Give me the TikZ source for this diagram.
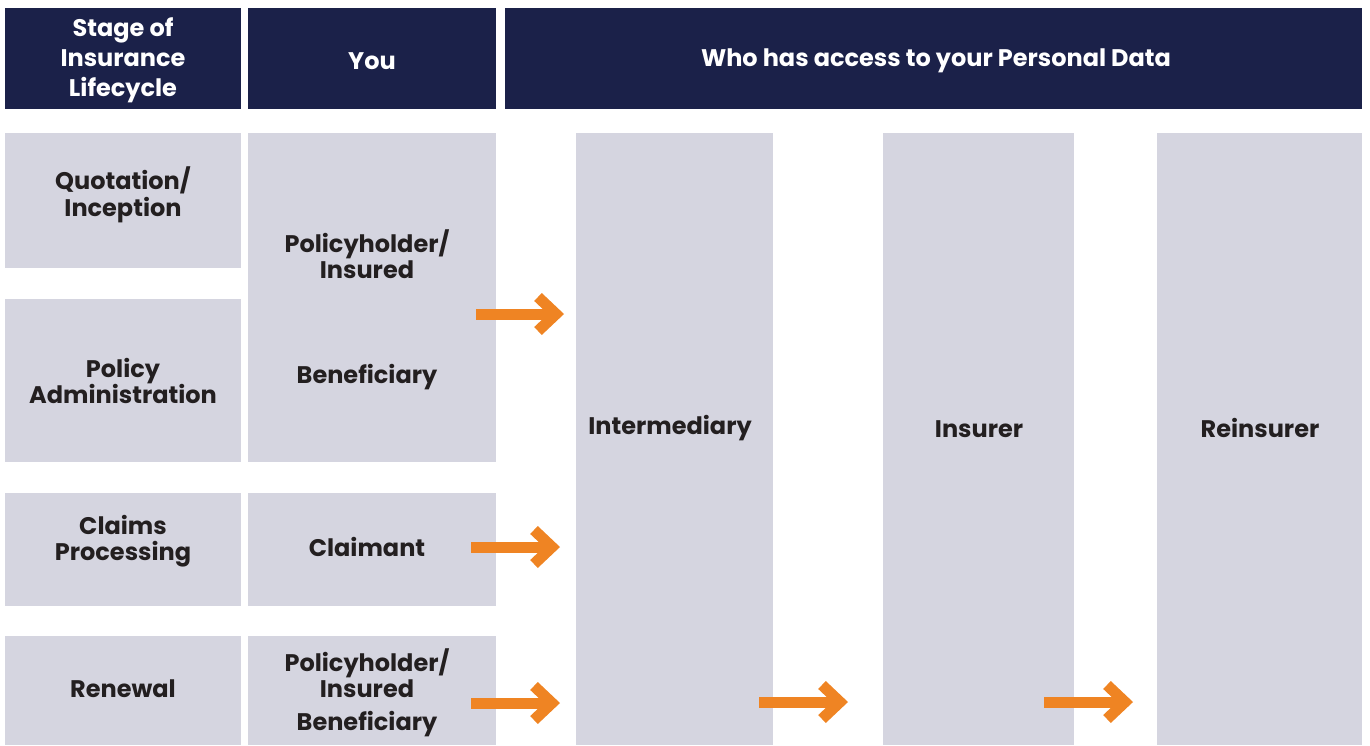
\documentclass[tikz,border=0pt]{standalone}
\usepackage{fontspec}
\setmainfont{Poppins}
\usetikzlibrary{arrows.meta}
\definecolor{navy}{RGB}{27,33,73}
\definecolor{cellgray}{RGB}{213,213,224}
\definecolor{arroworange}{RGB}{239,132,35}
\definecolor{darktext}{RGB}{35,31,32}
\begin{document}
\begin{tikzpicture}[x=1pt,y=-1pt,
  hdr/.style={fill=navy,draw=none,anchor=north west,inner sep=0pt},
  cell/.style={fill=cellgray,draw=none,anchor=north west,inner sep=0pt},
  htext/.style={text=white,font=\bfseries\fontsize{24}{30}\selectfont,align=center,inner sep=0pt},
  ctext/.style={text=darktext,font=\bfseries\fontsize{24}{26.5}\selectfont,align=center,inner sep=0pt},
  flow/.style={draw=arroworange,line width=11pt,line cap=butt,
    -{Straight Barb[length=18pt,width=34pt,line width=11pt,line join=miter,line cap=butt]}}
]
\useasboundingbox (0,0) rectangle (1370,745);
% header
\node[hdr,minimum width=236pt,minimum height=101pt] (h1) at (5,8) {};
\node[hdr,minimum width=248pt,minimum height=101pt] (h2) at (248,8) {};
\node[hdr,minimum width=857pt,minimum height=101pt] (h3) at (505,8) {};
\node[htext] (t-h1) at (123,60) {Stage of\\Insurance\\Lifecycle};
\node[htext] (t-h2) at (372,61) {You};
\node[htext] (t-h3) at (936,61) {Who has access to your Personal Data};
% column 1
\node[cell,minimum width=236pt,minimum height=135pt] (s1) at (5,133) {};
\node[cell,minimum width=236pt,minimum height=163pt] (s2) at (5,299) {};
\node[cell,minimum width=236pt,minimum height=113pt] (s3) at (5,493) {};
\node[cell,minimum width=236pt,minimum height=109pt] (s4) at (5,636) {};
\node[ctext] (t-s1) at (123,195) {Quotation/\\Inception};
\node[ctext] (t-s2) at (123,381) {Policy\\Administration};
\node[ctext] (t-s3) at (123,541) {Claims\\Processing};
\node[ctext] (t-s4) at (123,689) {Renewal};
% column 2
\node[cell,minimum width=248pt,minimum height=329pt] (y1) at (248,133) {};
\node[cell,minimum width=248pt,minimum height=113pt] (y2) at (248,493) {};
\node[cell,minimum width=248pt,minimum height=109pt] (y3) at (248,636) {};
\node[ctext] (t-y1a) at (367,254) {Policyholder/\\Insured};
\node[ctext] (t-y1b) at (367,377) {Beneficiary};
\node[ctext] (t-y2) at (367,547) {Claimant};
\node[ctext] (t-y3a) at (367,673) {Policyholder/\\Insured};
\node[ctext] (t-y3b) at (367,724) {Beneficiary};
% access columns
\node[cell,minimum width=197pt,minimum height=612pt] (p1) at (576,133) {};
\node[cell,minimum width=191pt,minimum height=612pt] (p2) at (883,133) {};
\node[cell,minimum width=205pt,minimum height=612pt] (p3) at (1157,133) {};
\node[ctext] (t-p1) at (670,428) {Intermediary};
\node[ctext] (t-p2) at (979,429) {Insurer};
\node[ctext] (t-p3) at (1260,428) {Reinsurer};
% arrows
\coordinate (a1s) at (476,314); \coordinate (a1e) at (564,314);
\coordinate (a2s) at (471,547); \coordinate (a2e) at (560,547);
\coordinate (a3s) at (471,703); \coordinate (a3e) at (560,703);
\coordinate (a4s) at (759,702); \coordinate (a4e) at (848,702);
\coordinate (a5s) at (1044,702); \coordinate (a5e) at (1133,702);
\draw[flow] (a1s) -- (a1e);
\draw[flow] (a2s) -- (a2e);
\draw[flow] (a3s) -- (a3e);
\draw[flow] (a4s) -- (a4e);
\draw[flow] (a5s) -- (a5e);
\end{tikzpicture}
\end{document}
